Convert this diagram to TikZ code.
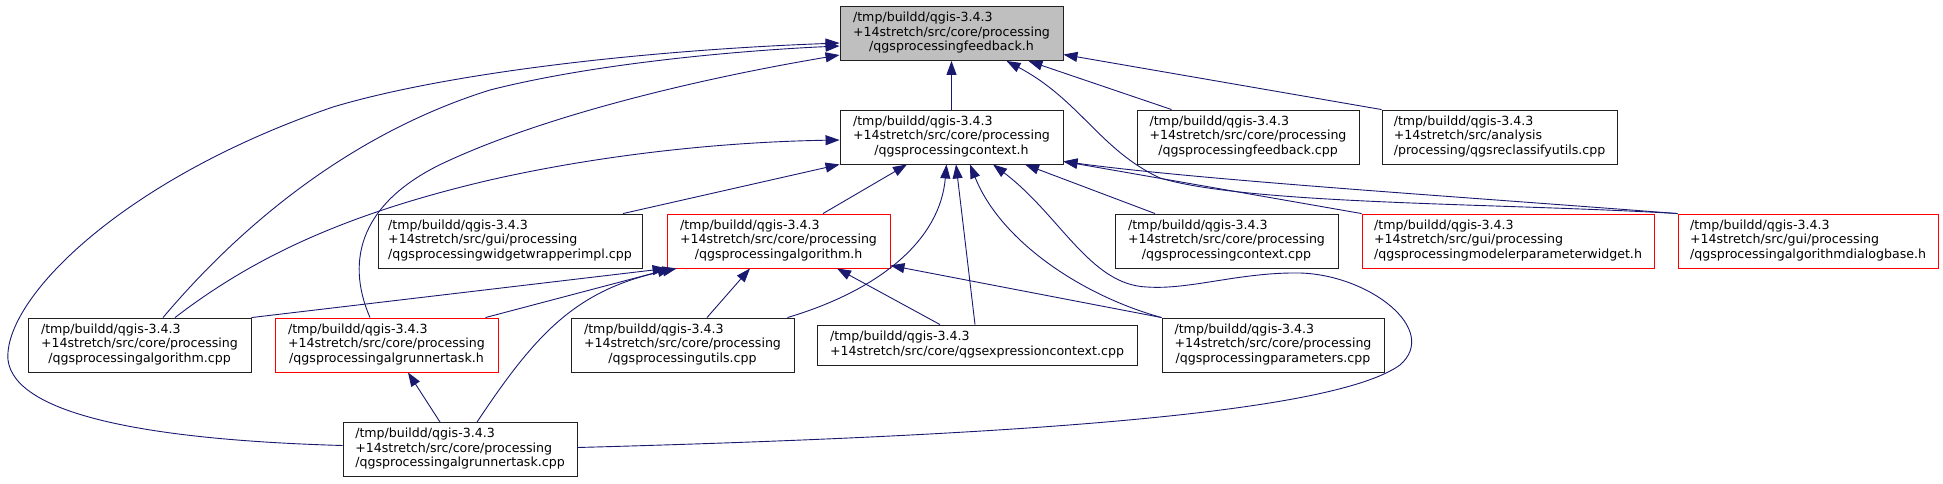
\documentclass[tikz,border=0pt]{standalone}
\usepackage{fontspec}
\setmainfont{DejaVu Sans}
\usepackage{tikz}
\usetikzlibrary{arrows.meta, calc}
\definecolor{incBlue}{HTML}{191970}
\definecolor{hdrRed}{HTML}{FF0000}
\definecolor{focusGrey}{HTML}{BFBFBF}
\definecolor{boxDark}{HTML}{202020}

% three-line file label: first lines left, last line centred
\newcommand{\fpath}[3]{\begin{tabular}{@{}l@{}}#1\\#2\\\multicolumn{1}{@{}c@{}}{#3}\end{tabular}}
\newcommand{\fpathii}[2]{\begin{tabular}{@{}l@{}}#1\\#2\end{tabular}}

\begin{document}
\begin{tikzpicture}[
  x=1pt, y=-1pt,
  every node/.style={font=\fontsize{12.6pt}{14.5pt}\selectfont},
  filebox/.style={
    rectangle, draw=boxDark, fill=white, line width=0.9pt,
    minimum width=#1, minimum height=54pt, inner xsep=3pt, inner ysep=0pt
  },
  hdrbox/.style={filebox=#1, draw=hdrRed},
  focusbox/.style={filebox=#1, fill=focusGrey},
  inc/.style={
    -{Triangle[length=14pt, width=10pt]}, line width=0.9pt, draw=incBlue
  },
]
\useasboundingbox (0,0) rectangle (1943,483);

% === FILE BOXES ===
\node[focusbox=223pt] (fbh) at (951.5,33.5)
  {\fpath{/tmp/buildd/qgis-3.4.3}{+14stretch/src/core/processing}{/qgsprocessingfeedback.h}};

\node[filebox=223pt] (ctxh) at (951.5,137)
  {\fpath{/tmp/buildd/qgis-3.4.3}{+14stretch/src/core/processing}{/qgsprocessingcontext.h}};
\node[filebox=222pt] (fbcpp) at (1248,137)
  {\fpath{/tmp/buildd/qgis-3.4.3}{+14stretch/src/core/processing}{/qgsprocessingfeedback.cpp}};
\node[filebox=235pt] (reclass) at (1499.5,137)
  {\fpath{/tmp/buildd/qgis-3.4.3}{+14stretch/src/analysis}{/processing/qgsreclassifyutils.cpp}};

\node[filebox=264pt] (wrapimpl) at (510,241)
  {\fpath{/tmp/buildd/qgis-3.4.3}{+14stretch/src/gui/processing}{/qgsprocessingwidgetwrapperimpl.cpp}};
\node[hdrbox=223pt] (algh) at (778.5,241)
  {\fpath{/tmp/buildd/qgis-3.4.3}{+14stretch/src/core/processing}{/qgsprocessingalgorithm.h}};
\node[filebox=223pt] (ctxcpp) at (1226.5,241)
  {\fpath{/tmp/buildd/qgis-3.4.3}{+14stretch/src/core/processing}{/qgsprocessingcontext.cpp}};
\node[hdrbox=292pt] (modelw) at (1508,241)
  {\fpath{/tmp/buildd/qgis-3.4.3}{+14stretch/src/gui/processing}{/qgsprocessingmodelerparameterwidget.h}};
\node[hdrbox=260pt] (dlgbase) at (1808,241)
  {\fpath{/tmp/buildd/qgis-3.4.3}{+14stretch/src/gui/processing}{/qgsprocessingalgorithmdialogbase.h}};

\node[filebox=223pt] (algcpp) at (139.5,345)
  {\fpath{/tmp/buildd/qgis-3.4.3}{+14stretch/src/core/processing}{/qgsprocessingalgorithm.cpp}};
\node[hdrbox=223pt] (runh) at (386.5,345)
  {\fpath{/tmp/buildd/qgis-3.4.3}{+14stretch/src/core/processing}{/qgsprocessingalgrunnertask.h}};
\node[filebox=223pt] (utils) at (682.5,345)
  {\fpath{/tmp/buildd/qgis-3.4.3}{+14stretch/src/core/processing}{/qgsprocessingutils.cpp}};
\node[filebox=320pt, minimum height=40pt] (exprctx) at (977,345)
  {\fpathii{/tmp/buildd/qgis-3.4.3}{+14stretch/src/core/qgsexpressioncontext.cpp}};
\node[filebox=222pt] (params) at (1273,345)
  {\fpath{/tmp/buildd/qgis-3.4.3}{+14stretch/src/core/processing}{/qgsprocessingparameters.cpp}};

\node[filebox=234pt] (runcpp) at (460,449.5)
  {\fpath{/tmp/buildd/qgis-3.4.3}{+14stretch/src/core/processing}{/qgsprocessingalgrunnertask.cpp}};

% === INCLUDES OF qgsprocessingfeedback.h ===
\draw[inc] (ctxh.north) -- (fbh.south);
\draw[inc] ([xshift=35pt]fbcpp.north west) -- ([xshift=-35pt]fbh.south east);
\draw[inc] (reclass.north west) -- ([yshift=-21pt]fbh.east);
\draw[inc] (dlgbase.north west) .. controls (1500,203) and (1250,205) .. (1160,178)
  .. controls (1100,150) and (1080,100) .. ([xshift=55pt]fbh.south);
\draw[inc] ([yshift=4pt]runcpp.west) .. controls (150,440) and (15,415) .. (8,360)
  .. controls (3,300) and (120,180) .. (333,107)
  .. controls (450,72) and (650,50) .. ([yshift=-9.5pt]fbh.west);
\draw[inc] ([xshift=23.5pt]algcpp.north) .. controls (220,250) and (330,140) .. (490,90)
  .. controls (600,62) and (750,50) .. ([yshift=-12.5pt]fbh.west);
\draw[inc] ([xshift=-16.5pt]runh.north) .. controls (345,260) and (360,200) .. (450,160)
  .. controls (560,110) and (720,75) .. ([yshift=-21.5pt]fbh.west);

% === INCLUDES OF qgsprocessingcontext.h ===
\draw[inc] ([xshift=44.5pt]algh.north) -- ([xshift=-44.5pt]ctxh.south);
\draw[inc] ([xshift=113pt]wrapimpl.north) -- (ctxh.south west);
\draw[inc] ([xshift=35.5pt]algcpp.north) .. controls (250,260) and (340,215) .. (490,180)
  .. controls (600,155) and (720,142) .. ([yshift=-3pt]ctxh.west);
\draw[inc] ([xshift=-7pt]utils.north east) .. controls (880,290) and (940,240) .. ([xshift=-5pt]ctxh.south);
\draw[inc] ([xshift=-2pt]exprctx.north) -- ([xshift=4.5pt]ctxh.south);
\draw[inc] (params.north west) .. controls (1080,295) and (1000,240) .. ([xshift=18.5pt]ctxh.south);
\draw[inc] ([yshift=2pt]runcpp.east) .. controls (1000,436) and (1330,415) .. (1400,365)
  .. controls (1440,330) and (1370,275) .. (1300,273)
  .. controls (1240,272) and (1190,290) .. (1147,287)
  .. controls (1090,285) and (1060,215) .. ([xshift=41.5pt]ctxh.south);
\draw[inc] ([xshift=-71.5pt]ctxcpp.north) -- ([xshift=73.5pt]ctxh.south);
\draw[inc] (modelw.north west) -- ([yshift=3pt]ctxh.south east);
\draw[inc] (dlgbase.north west) .. controls (1450,196) and (1200,180) .. ([yshift=3pt]ctxh.south east);

% === INCLUDES OF qgsprocessingalgorithm.h ===
\draw[inc] (algcpp.north east) -- (algh.south west);
\draw[inc] ([xshift=-13pt]runh.north east) -- ([xshift=5pt]algh.south west);
\draw[inc] ([xshift=17pt]runcpp.north) .. controls (535,335) and (575,290) .. ([xshift=10pt]algh.south west);
\draw[inc] ([xshift=24.5pt]utils.north) -- ([xshift=-28.5pt]algh.south);
\draw[inc] ([xshift=-37pt]exprctx.north) -- ([xshift=58.5pt]algh.south);
\draw[inc] (params.north west) -- ([yshift=3pt]algh.south east);

% === INCLUDES OF qgsprocessingalgrunnertask.h ===
\draw[inc] ([xshift=-20pt]runcpp.north) -- ([xshift=21.5pt]runh.south);

\end{tikzpicture}
\end{document}
